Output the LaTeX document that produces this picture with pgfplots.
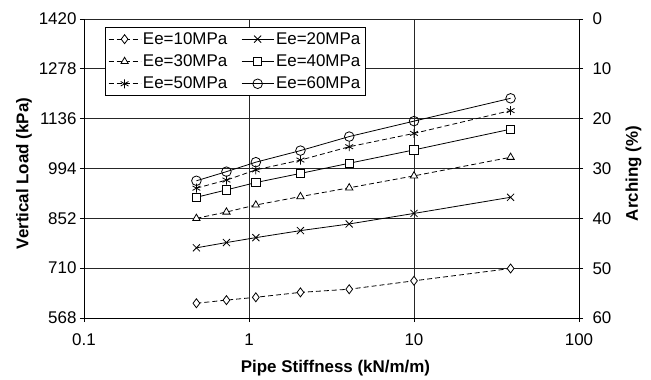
\documentclass[border=0pt]{standalone}
\usepackage{fontspec}
\setmainfont{Liberation Sans}
\usepackage{pgfplots}
\pgfplotsset{compat=1.18}
\newcommand{\tfont}{\fontsize{17}{20}\selectfont}
\newcommand{\lfont}{\fontsize{17}{20}\selectfont\bfseries}
\pgfplotsset{
  myaxis/.style={
    scale only axis, width=495bp, height=299bp,
    xmin=0.1, xmax=100,
    every tick label/.style={font=\tfont},
    every axis label/.append style={font=\lfont},
    /pgf/number format/assume math mode=true,
    /pgf/number format/1000 sep={},
    tick align=outside, major tick length=4bp,
    axis line style={line width=0.9bp},
    tick style={line width=0.8bp, black},
  },
  dsh/.style={dash pattern=on 5bp off 3bp},
}
\begin{document}
\begin{tikzpicture}
\useasboundingbox (-84bp,-62bp) rectangle (567bp,318bp);
\begin{axis}[
  xmode=log, myaxis,
  ymin=568, ymax=1420,
  xtick={0.1,1,10,100}, xticklabels={0.1,1,10,100},
  ytick={568,710,852,994,1136,1278,1420},
  axis y line*=left, axis x line*=bottom,
  xminorticks=false, minor x tick num=0,
  xticklabel style={yshift=-8bp},
  grid=major, major grid style={line width=0.8bp, black!85},
  xlabel={Pipe Stiffness (kN/m/m)},
  ylabel={Vertical Load (kPa)},
  xlabel style={at={(axis description cs:0.508,-0.167)}, anchor=center},
  ylabel style={at={(axis description cs:-0.1212,0.483)}, anchor=center, rotate=0},
  legend columns=2,
  legend cell align=left,
  legend style={at={(axis description cs:0.042,0.973)}, anchor=north west,
    draw=black, line width=0.8bp, fill=white,
    nodes={font=\tfont, inner sep=2bp},
    /tikz/every even column/.append style={column sep=12bp},
    inner xsep=3bp, inner ysep=3bp, row sep=5bp},
  legend image code/.code={\draw[mark repeat=2,mark phase=2,#1] plot coordinates {(0bp,0bp)(16bp,0bp)(32bp,0bp)};},
  every axis plot/.append style={black, line width=0.8bp, mark size=4.2bp, mark options={solid, fill=white, line width=0.8bp}},
]
\addplot[dsh, mark=diamond*, mark size=4.5bp] coordinates {(0.48,610) (0.73,619) (1.1,627) (2.05,641) (4.05,650) (10,674) (38.5,709)};
\addlegendentry{Ee=10MPa}
\addplot[mark=x, mark size=5bp] coordinates {(0.48,768) (0.73,783) (1.1,797) (2.05,817) (4.05,836) (10,866) (38.5,912)};
\addlegendentry{Ee=20MPa}
\addplot[dsh, mark=triangle*] coordinates {(0.48,852) (0.73,870) (1.1,890) (2.05,914) (4.05,939) (10,973) (38.5,1026)};
\addlegendentry{Ee=30MPa}
\addplot[mark=square*, mark size=4.2bp] coordinates {(0.48,912) (0.73,933) (1.1,954) (2.05,980) (4.05,1009) (10,1047) (38.5,1106)};
\addlegendentry{Ee=40MPa}
\addplot[dsh, mark=asterisk, mark size=4.5bp] coordinates {(0.48,938) (0.73,961) (1.1,990) (2.05,1018) (4.05,1056) (10,1094) (38.5,1159)};
\addlegendentry{Ee=50MPa}
\addplot[mark=o, mark size=4.8bp] coordinates {(0.48,959) (0.73,985) (1.1,1012) (2.05,1045) (4.05,1085) (10,1129) (38.5,1194)};
\addlegendentry{Ee=60MPa}
\end{axis}
\begin{axis}[
  xmode=log, myaxis,
  ymin=0, ymax=60, y dir=reverse,
  ytick={0,10,20,30,40,50,60},
  axis y line*=right, axis x line=none,
  yticklabel style={xshift=6bp},
  ylabel={Arching (\%)},
  ylabel style={at={(axis description cs:1.110,0.483)}, anchor=center, rotate=0},
]
\end{axis}
\end{tikzpicture}
\end{document}
